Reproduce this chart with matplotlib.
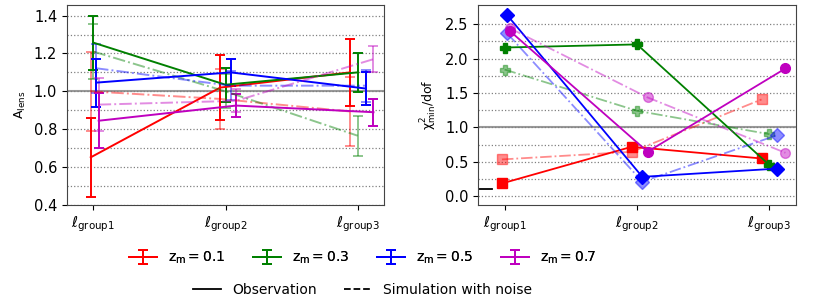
import matplotlib
matplotlib.use("Agg")
import matplotlib.pyplot as plt
from matplotlib.lines import Line2D
import numpy as np

plt.rcParams['mathtext.default'] = 'regular'

groups = ['group1', 'group2', 'group3']
zm = [0.1, 0.3, 0.5, 0.7]
colors = ['red', 'green', 'blue', 'm']
markers = ['s', 'P', 'D', 'o']

# A_lens, observation
A_obs = [[0.652, 1.02, 1.10],
         [1.257, 1.035, 1.10],
         [1.046, 1.10, 1.015],
         [0.845, 0.925, 0.89]]
A_obs_err = [[0.21, 0.17, 0.177],
             [0.143, 0.09, 0.105],
             [0.127, 0.07, 0.087],
             [0.145, 0.06, 0.072]]
# A_lens, simulation with noise
A_sim = [[1.0, 0.96, 0.894],
         [1.21, 1.0, 0.766],
         [1.122, 1.03, 1.03],
         [0.93, 0.95, 1.17]]
A_sim_err = [[0.21, 0.16, 0.18],
             [0.145, 0.09, 0.105],
             [0.13, 0.075, 0.085],
             [0.14, 0.06, 0.07]]

# chi2_min/dof
chi_obs = [[0.184, 0.717, 0.547],
           [2.16, 2.205, 0.45],
           [2.63, 0.28, 0.40],
           [2.40, 0.645, 1.855]]
chi_sim = [[0.533, 0.644, 1.405],
           [1.84, 1.24, 0.90],
           [2.365, 0.21, 0.887],
           [2.44, 1.434, 0.63]]
chi_ref = 0.1

g = np.arange(1, len(groups) + 1)
shift = [-0.02, 0.0, 0.02, 0.04]
ticklabels = [r'$\ell_{%s}$' % s for s in groups]

fig = plt.figure(figsize=(8.3, 3.02), dpi=100)
ax1 = fig.add_axes([0.0807, 0.321, 0.382, 0.662])
ax2 = fig.add_axes([0.576, 0.321, 0.383, 0.662])

for ax in (ax1, ax2):
    for sp in ax.spines.values():
        sp.set_color('#444444')
    ax.tick_params(labelsize=10.5, colors='black')
    ax.tick_params(which='minor', length=0)
    ax.set_xticks(g)
    ax.set_xticklabels(ticklabels)
    ax.set_xlim(0.8, 3.2)
    ax.grid(axis='y', which='both', ls=':', color='gray', lw=0.9)
    ax.axhline(1.0, color='gray', lw=1.5, alpha=0.8)

handles = []
for i in range(len(zm)):
    x = g * (1 + shift[i])
    h = ax1.errorbar(x, A_obs[i], yerr=A_obs_err[i], color=colors[i], lw=1.4,
                     capsize=3.5, capthick=1.4)
    ax1.errorbar(x, A_sim[i], yerr=A_sim_err[i], color=colors[i], lw=1.4,
                 ls='-.', capsize=3.5, capthick=1.4, alpha=0.45)
    handles.append(h)

    ax2.plot(x, chi_obs[i], color=colors[i], marker=markers[i], ms=7, lw=1.3)
    ax2.plot(x, chi_sim[i], color=colors[i], marker=markers[i], ms=7, lw=1.3,
             ls='-.', alpha=0.45)

ax2.axhline(chi_ref, xmin=0, xmax=0.045, color='black', lw=1.3)

ax1.set_ylim(0.4, 1.455)
ax1.set_yticks(np.arange(0.4, 1.41, 0.2))
ax1.set_yticks(np.arange(0.5, 1.41, 0.2), minor=True)
ax1.set_ylabel(r'$A_{lens}$', fontsize=9)

ax2.set_ylim(-0.13, 2.776)
ax2.set_yticks(np.arange(0.0, 2.51, 0.5))
ax2.set_yticks(np.arange(0.25, 2.51, 0.5), minor=True)
ax2.set_ylabel(r'$\chi^2_{min}$/dof', fontsize=9)

leg1 = fig.legend(handles, [r'$z_m=%s$' % z for z in zm], loc='center',
                  bbox_to_anchor=(0.437, 0.146), ncol=4, frameon=False, fontsize=10)
style_handles = [Line2D([], [], color='black', ls='-', lw=1.3),
                 Line2D([], [], color='black', ls='--', lw=1.3)]
fig.legend(style_handles, ['Observation', 'Simulation with noise'], loc='center',
           bbox_to_anchor=(0.437, 0.04), ncol=2, frameon=False, fontsize=10)
fig.add_artist(leg1)

fig.savefig('out.png', dpi=100)
